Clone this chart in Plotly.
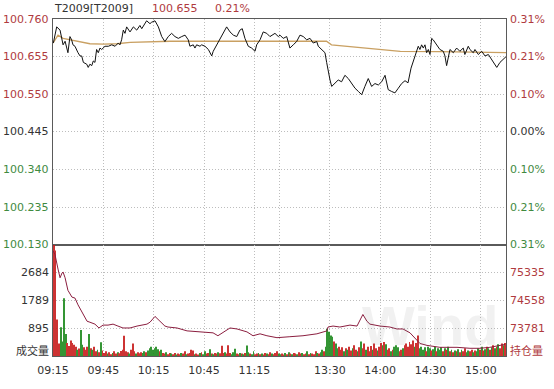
import plotly.graph_objects as go

# ---------------- data ----------------
# trading-minute index: 0 = 09:15, 135 = 11:30/13:00, 270 = 15:15
price_t = [0.2, 2.2, 4.2, 5.2, 6.0, 7.2, 8.2, 8.9, 10.1, 11.1, 11.9, 13.1, 14.9, 16.1, 17.1, 18.1,
           20.1, 21.0, 22.0, 23.1, 24.0, 25.0, 26.0, 27.0, 28.0, 29.0, 31.0, 33.0, 35.0, 37.0, 38.9,
           39.9, 40.9, 41.9, 42.9, 43.9, 45.9, 46.9, 47.9, 49.9, 51.8, 52.9, 54.8, 55.8, 57.8, 58.8,
           60.8, 62.8, 64.8, 66.7, 68.7, 70.7, 72.7, 74.7, 76.7, 78.7, 80.6, 81.6, 83.6, 84.6, 85.6,
           87.6, 88.6, 90.6, 92.6, 94.6, 95.5, 97.6, 99.5, 101.5, 103.5, 105.5, 107.5, 109.5, 111.4,
           112.8, 114.4, 116.4, 118.4, 120.4, 121.4, 123.4, 125.3, 127.4, 129.3, 132.3, 134.3, 135.3,
           137.2, 139.3, 141.2, 143.2, 145.2, 147.2, 149.2, 151.2, 153.2, 155.1, 157.2, 158.1, 160.1,
           162.1, 163.1, 164.1, 165.1, 166.1, 168.1, 170.0, 172.0, 174.0, 176.0, 178.0, 180.0, 182.0,
           184.0, 185.9, 187.9, 189.9, 191.9, 193.9, 195.9, 197.9, 199.8, 201.8, 203.8, 205.8, 207.8,
           209.8, 211.6, 213.4, 215.7, 217.7, 218.7, 219.7, 220.7, 221.7, 222.7, 223.7, 224.7, 225.7,
           226.6, 228.7, 230.6, 232.6, 233.6, 234.6, 235.6, 236.6, 238.6, 240.6, 242.5, 244.5, 245.5,
           247.5, 248.5, 250.5, 251.5, 253.5, 255.5, 257.5, 259.5, 261.5, 263.5, 264.5, 266.4, 268.4,
           270.0]
price_v = [100.693, 100.738, 100.729, 100.706, 100.688, 100.698, 100.679, 100.666, 100.711, 100.702,
           100.688, 100.684, 100.666, 100.657, 100.657, 100.639, 100.634, 100.625, 100.634, 100.630,
           100.643, 100.639, 100.675, 100.666, 100.679, 100.675, 100.684, 100.684, 100.688, 100.684,
           100.693, 100.688, 100.702, 100.729, 100.720, 100.738, 100.724, 100.733, 100.738, 100.729,
           100.742, 100.733, 100.747, 100.755, 100.747, 100.751, 100.755, 100.738, 100.711, 100.697,
           100.711, 100.720, 100.711, 100.706, 100.711, 100.715, 100.702, 100.684, 100.688, 100.679,
           100.688, 100.684, 100.688, 100.684, 100.675, 100.657, 100.670, 100.688, 100.706, 100.724,
           100.738, 100.724, 100.715, 100.711, 100.729, 100.733, 100.706, 100.684, 100.679, 100.670,
           100.688, 100.702, 100.724, 100.720, 100.711, 100.720, 100.711, 100.715, 100.706, 100.711,
           100.679, 100.688, 100.697, 100.715, 100.711, 100.702, 100.706, 100.693, 100.697, 100.684,
           100.675, 100.666, 100.639, 100.612, 100.590, 100.572, 100.580, 100.590, 100.585, 100.603,
           100.594, 100.580, 100.567, 100.558, 100.549, 100.572, 100.594, 100.572, 100.580, 100.576,
           100.585, 100.603, 100.563, 100.558, 100.554, 100.567, 100.580, 100.588, 100.582, 100.623,
           100.657, 100.684, 100.675, 100.688, 100.679, 100.688, 100.666, 100.675, 100.661, 100.706,
           100.702, 100.688, 100.675, 100.670, 100.657, 100.630, 100.657, 100.675, 100.666, 100.679,
           100.670, 100.679, 100.661, 100.684, 100.675, 100.666, 100.675, 100.661, 100.670, 100.657,
           100.661, 100.648, 100.634, 100.625, 100.639, 100.648, 100.655]

avg_t = [0, 3, 6, 10, 16, 22, 30, 38, 46, 58, 70, 135, 163, 166, 175, 185, 195, 207, 230, 270]
avg_v = [100.693, 100.715, 100.706, 100.702, 100.695, 100.691, 100.690, 100.691, 100.695, 100.697,
         100.698, 100.698, 100.698, 100.688, 100.684, 100.679, 100.675, 100.670, 100.669, 100.666]

oi_t = [0, 1.2, 3.0, 4.2, 5.4, 6.0, 7.2, 8.9, 11.3, 13.1, 14.9, 17.3, 17.9, 20.3, 22.0, 25.0, 27.4,
        29.8, 32.8, 35.8, 38.7, 41.7, 45.9, 50.1, 56.0, 57.8, 60.8, 63.8, 66.7, 68.5, 73.9, 79.9,
        87.6, 95.4, 98.3, 101.3, 105.5, 109.7, 115.6, 119.2, 123.4, 127.5, 133.5, 141.2, 149.0,
        157.3, 163.3, 163.9, 166.9, 171.0, 177.0, 181.2, 183.0, 184.7, 187.1, 188.9, 194.9, 200.8,
        205.0, 208.6, 212.8, 216.9, 218.7, 222.9, 226.5, 230.6, 234.8, 240.8, 248.5, 254.5, 260.4,
        266.4, 269.4]
oi_v = [75950, 75842, 75436, 75193, 75328, 75355, 75193, 74842, 74652, 74625, 74436, 74247, 74166,
        73977, 73950, 73896, 73788, 73869, 73869, 73896, 73842, 73788, 73788, 73842, 73896, 73950,
        74112, 73977, 73842, 73815, 73788, 73707, 73679, 73652, 73571, 73652, 73788, 73760, 73679,
        73571, 73625, 73571, 73517, 73544, 73571, 73625, 73707, 73815, 73842, 73815, 73869, 73842,
        74031, 74166, 73977, 73896, 73842, 73815, 73760, 73760, 73652, 73436, 73355, 73301, 73274,
        73247, 73247, 73247, 73220, 73220, 73247, 73301, 73328]

# per-minute volume (270 minutes) and bar direction (r = up / g = down)
vol = [3600, 3400, 1180, 400, 930, 470, 1860, 710, 420, 320, 500, 420, 360, 300, 200,
       240, 840, 360, 280, 200, 300, 710, 250, 200, 300, 150, 200, 120, 440, 180,
       100, 150, 80, 120, 60, 100, 150, 80, 120, 90, 160, 200, 650, 150, 120,
       80, 200, 400, 150, 80, 120, 90, 120, 100, 150, 120, 180, 250, 300, 200,
       250, 300, 220, 150, 200, 100, 80, 120, 60, 100, 80, 60, 100, 50, 80,
       60, 100, 80, 150, 60, 80, 100, 200, 180, 60, 80, 50, 100, 120, 60,
       150, 80, 100, 220, 80, 60, 100, 80, 120, 90, 330, 100, 120, 80, 350,
       100, 60, 120, 230, 80, 60, 100, 80, 60, 100, 340, 120, 80, 60, 150,
       60, 80, 100, 60, 80, 50, 100, 80, 60, 120, 80, 60, 100, 150, 80,
       60, 80, 50, 100, 60, 120, 80, 60, 100, 80, 60, 120, 80, 100, 60,
       80, 150, 60, 100, 80, 60, 150, 100, 80, 120, 200, 150, 300, 870, 780,
       660, 620, 470, 400, 250, 300, 200, 280, 150, 250, 200, 300, 180, 250, 350,
       200, 150, 280, 470, 250, 400, 200, 300, 150, 320, 200, 400, 250, 180, 300,
       420, 350, 450, 380, 200, 250, 150, 200, 300, 350, 280, 150, 200, 250, 350,
       400, 300, 450, 380, 500, 300, 420, 660, 250, 300, 200, 280, 150, 300, 250,
       180, 220, 300, 150, 250, 200, 280, 150, 250, 200, 300, 150, 200, 120, 180,
       150, 220, 120, 200, 150, 250, 120, 180, 150, 200, 120, 180, 150, 250, 200,
       300, 180, 220, 300, 250, 200, 280, 350, 250, 300, 380, 250, 400, 350, 420]
vol_dir = ("rrrrggggrrrrrrg" "rggrrrgrgrrgrgr" "rrgrrgrrgrrrrrr" "grrrgrrrggrgggg"
           "gggrgrrgrrgrrgr" "rgrrgrrrrgrrgrg" "grrgrgrrgrrrgrr" "rgggrrgrgrggrgg"
           "rrgrgrrgrrgrrrg" "grrgrgrgrrgrrgr" "rgrgrrrgrggrggg" "ggrggrrrgrgrrgr"
           "rgrgrrgrrrgrrgr" "rgrgrrgrgggrrgr" "rrrrrgrrggggrgg" "rggrgggrgrgrgrg"
           "rgrgrrggrrgrggr" "grgrgrgrgrgrrgr")

prev_settle = 100.445
price_ticks = [100.130, 100.235, 100.340, 100.445, 100.550, 100.655, 100.760]
pct_labels = ["0.31%", "0.21%", "0.10%", "0.00%", "0.10%", "0.21%", "0.31%"]
vol_ticks = [895, 1789, 2684]
vol_range = [0, 3579]
oi_ticks = [73781, 74558, 75335]
oi_range = [73004, 76112]
time_vals = [0, 30, 60, 90, 120, 135, 165, 195, 225, 255]
time_text = ["09:15", "09:45", "10:15", "10:45", "11:15", "", "13:30", "14:00", "14:30", "15:00"]
title_code = "T2009[T2009]"
last_price = "100.655"
last_pct = "0.21%"

# ---------------- styling ----------------
FONT = "DejaVu Sans"
CJK = "Noto Sans CJK SC"
RED = "#b03a3e"
GREEN = "#3f8a3f"
GRAY = "#333333"
GRID = "#bdbdbd"
DASH = "1px,2px"
BORDER = "#5a5a5a"
split = (368 - 253) / 349.0

fig = go.Figure()

bar_colors = ["#c81e1e" if d == "r" else "#1f8a1f" for d in vol_dir]
fig.add_trace(go.Bar(x=[i + 0.5 for i in range(len(vol))], y=vol, width=0.55,
                     marker=dict(color=bar_colors, line=dict(width=0)), opacity=0.9,
                     xaxis="x2", yaxis="y2", hoverinfo="skip"))
fig.add_trace(go.Scatter(x=oi_t, y=oi_v, mode="lines", line=dict(color="#8b1e3f", width=1),
                         xaxis="x2", yaxis="y3", hoverinfo="skip"))
fig.add_trace(go.Scatter(x=avg_t, y=avg_v, mode="lines", line=dict(color="#c9a062", width=1.3),
                         xaxis="x", yaxis="y", hoverinfo="skip"))
fig.add_trace(go.Scatter(x=price_t, y=price_v, mode="lines", line=dict(color="#111111", width=1),
                         xaxis="x", yaxis="y", hoverinfo="skip"))

common_x = dict(range=[0, 270], tickvals=time_vals, showgrid=True, gridcolor=GRID, griddash=DASH,
                gridwidth=1, zeroline=False, showline=True, linecolor=BORDER, linewidth=1, mirror=True)
fig.update_layout(
    width=554, height=389,
    margin=dict(l=53, r=48, t=19, b=21),
    paper_bgcolor="white", plot_bgcolor="white",
    showlegend=False,
    font=dict(family=FONT, size=11, color=GRAY),
    xaxis=dict(domain=[0, 1], anchor="y", showticklabels=False, **common_x),
    xaxis2=dict(domain=[0, 1], anchor="y2", ticktext=time_text, showticklabels=True,
                ticks="outside", ticklen=4, tickcolor="rgba(0,0,0,0)",
                tickfont=dict(family=FONT, size=11, color=GRAY), **common_x),
    yaxis=dict(domain=[split, 1], range=[price_ticks[0], price_ticks[-1]], tickvals=price_ticks,
               showticklabels=False, showgrid=True, gridcolor=GRID, griddash=DASH, zeroline=False,
               showline=True, linecolor=BORDER, linewidth=1, mirror=True),
    yaxis2=dict(domain=[0, split], range=vol_range, tickvals=vol_ticks, showticklabels=False,
                showgrid=True, gridcolor=GRID, griddash=DASH, zeroline=False,
                showline=True, linecolor=BORDER, linewidth=1, mirror=True),
    yaxis3=dict(overlaying="y2", side="right", range=oi_range, showticklabels=False,
                showgrid=False, zeroline=False, tickvals=oi_ticks),
)

ann = []
# faint watermark inside the lower panel
ann.append(dict(text="<b>Wind</b>", xref="paper", yref="paper", x=(430 - 53) / 453.0,
                y=(368 - 336) / 349.0, xanchor="center", yanchor="middle", showarrow=False,
                font=dict(family="Liberation Sans", size=56, color="rgba(120,120,120,0.10)")))

for v, p in zip(price_ticks, pct_labels):
    if abs(v - prev_settle) < 1e-9:
        c = GRAY
    elif v > prev_settle:
        c = RED
    else:
        c = GREEN
    ann.append(dict(text=f"{v:.3f}", xref="paper", yref="y", x=0, y=v, xanchor="right",
                    yanchor="middle", xshift=-2, showarrow=False, font=dict(color=c, size=11, family=FONT)))
    ann.append(dict(text=p, xref="paper", yref="y", x=1, y=v, xanchor="left",
                    yanchor="middle", xshift=2, showarrow=False, font=dict(color=c, size=11, family=FONT)))

for v in vol_ticks:
    ann.append(dict(text=str(v), xref="paper", yref="y2", x=0, y=v, xanchor="right", yanchor="middle",
                    xshift=-2, showarrow=False, font=dict(color=GRAY, size=11, family=FONT)))
for v in oi_ticks:
    ann.append(dict(text=str(v), xref="paper", yref="y3", x=1, y=v, xanchor="left", yanchor="middle",
                    xshift=2, showarrow=False, font=dict(color=RED, size=11, family=FONT)))

ann.append(dict(text="成交量", xref="paper", yref="y2", x=0, y=0, xanchor="right", yanchor="middle",
                xshift=-2, yshift=6, showarrow=False, font=dict(color=GRAY, size=11, family=CJK)))
ann.append(dict(text="持仓量", xref="paper", yref="y2", x=1, y=0, xanchor="left", yanchor="middle",
                xshift=2, yshift=6, showarrow=False, font=dict(color=RED, size=11, family=CJK)))

# header
ann.append(dict(text=title_code, xref="paper", yref="paper", x=0, y=1, xanchor="left",
                yanchor="middle", yshift=11, xshift=-1, showarrow=False,
                font=dict(color=GRAY, size=11, family=FONT)))
ann.append(dict(text=last_price, xref="paper", yref="paper", x=(150 - 53) / 453.0, y=1, xanchor="left",
                yanchor="middle", yshift=11, showarrow=False, font=dict(color=RED, size=11, family=FONT)))
ann.append(dict(text=last_pct, xref="paper", yref="paper", x=(213 - 53) / 453.0, y=1, xanchor="left",
                yanchor="middle", yshift=11, showarrow=False, font=dict(color=RED, size=11, family=FONT)))

fig.update_layout(annotations=ann)
fig.write_html("out.html")
